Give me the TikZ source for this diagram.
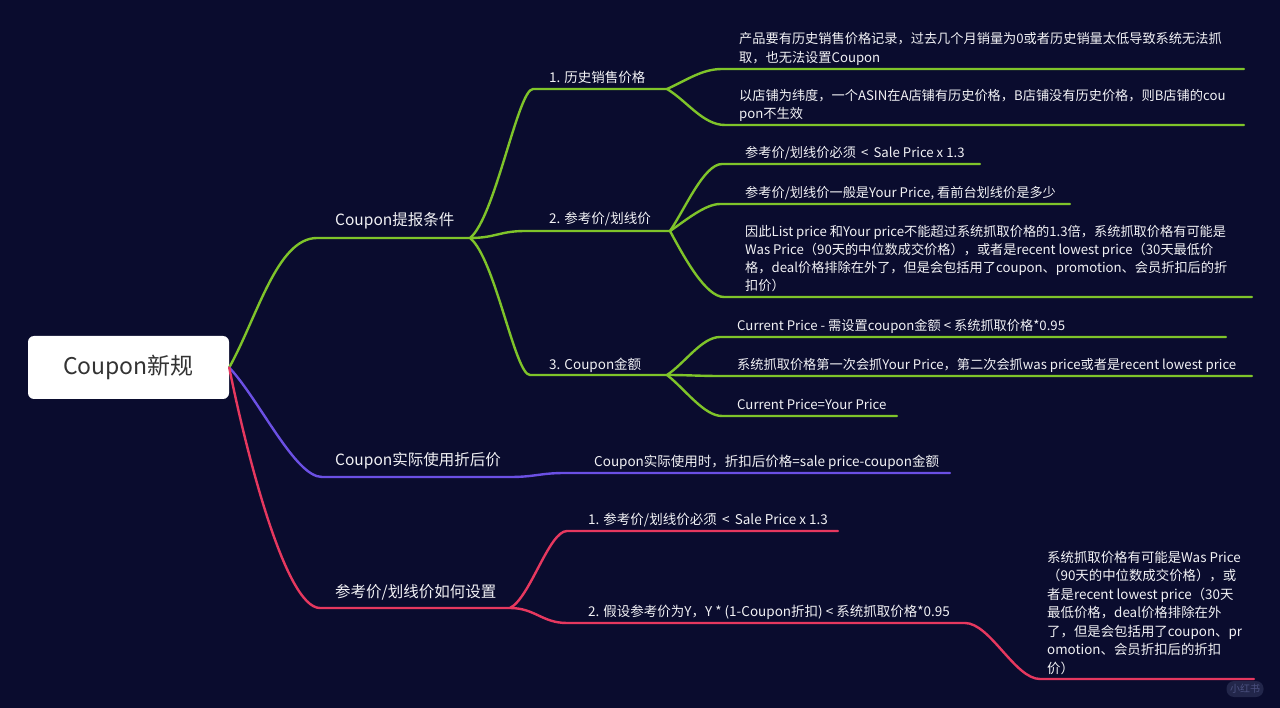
\documentclass[tikz,border=0pt]{standalone}
\usepackage{fontspec}
\setmainfont{Noto Sans CJK SC}
\definecolor{bg}{HTML}{0A0C2E}
\definecolor{mgreen}{HTML}{7FC42A}
\definecolor{mpurple}{HTML}{6B50E4}
\definecolor{mred}{HTML}{E6385F}
\definecolor{txt}{HTML}{F2F2F5}
\definecolor{roottxt}{HTML}{333333}
\definecolor{logofill}{HTML}{22264A}
\definecolor{logotxt}{HTML}{4C5180}
\begin{document}
\begin{tikzpicture}[x=1pt,y=-1pt,
  every node/.style={inner sep=0pt, text=txt},
  lvlone/.style={font=\fontsize{15.5}{20}\selectfont, anchor=west},
  lvltwo/.style={font=\fontsize{13.5}{18}\selectfont, anchor=west},
  leaf/.style={font=\fontsize{13.2}{18.3}\selectfont, anchor=west, align=left},
  conn/.style={line width=2.4pt, line cap=round, line join=round},
  gline/.style={conn, draw=mgreen},
  pline/.style={conn, draw=mpurple},
  rline/.style={conn, draw=mred}]
\useasboundingbox (0,0) rectangle (1280,708);
\fill[bg] (0,0) rectangle (1280,708);

% root topic
\node[fill=white, rounded corners=6pt, minimum width=201pt, minimum height=63pt,
      text=roottxt, font=\fontsize{23}{26}\selectfont] (root) at (128.5,367.5) {Coupon新规};

% junction and line-end points
\coordinate (G1a) at (317,238);  \coordinate (J1) at (470,238);
\coordinate (G11a) at (533,89);  \coordinate (J11) at (667,89);
\coordinate (G12a) at (525,231); \coordinate (J12) at (670,231);
\coordinate (G13a) at (530,375); \coordinate (J13) at (667,375);
\coordinate (L11a) at (722,69);  \coordinate (L11b) at (1244,69);
\coordinate (L12a) at (725,125); \coordinate (L12b) at (1244,125);
\coordinate (L21a) at (722,164); \coordinate (L21b) at (980,164);
\coordinate (L22a) at (720,204); \coordinate (L22b) at (1070,204);
\coordinate (L23a) at (724,297); \coordinate (L23b) at (1252,297);
\coordinate (L31a) at (720,337); \coordinate (L31b) at (1226,337);
\coordinate (L32a) at (720,376); \coordinate (L32b) at (1252,376);
\coordinate (L33a) at (722,416); \coordinate (L33b) at (897,416);
\coordinate (P1a) at (322,477);  \coordinate (P1b) at (510,477);
\coordinate (P2a) at (565,473);  \coordinate (P2b) at (950,473);
\coordinate (R1a) at (320,608);  \coordinate (J3) at (510,608);
\coordinate (R11a) at (567,531); \coordinate (R11b) at (838,531);
\coordinate (R12a) at (567,623); \coordinate (R12b) at (965,623);
\coordinate (R13a) at (1040,679);\coordinate (R13b) at (1254,679);

% green branch
\draw[gline] (root.east) .. controls +(28,-50) and +(-40,0) .. (G1a) -- (J1);
\draw[gline] (J1) .. controls +(25,-20) and +(-15,0) .. (G11a) -- (J11);
\draw[gline] (J1) .. controls +(25,0) and +(-25,0) .. (G12a) -- (J12);
\draw[gline] (J1) .. controls +(25,20) and +(-15,0) .. (G13a) -- (J13);
\draw[gline] (J11) .. controls +(20,-9) and +(-20,0) .. (L11a) -- (L11b);
\draw[gline] (J11) .. controls +(20,12) and +(-22,0) .. (L12a) -- (L12b);
\draw[gline] (J12) .. controls +(15,-22) and +(-18,0) .. (L21a) -- (L21b);
\draw[gline] (J12) .. controls +(15,-10) and +(-15,0) .. (L22a) -- (L22b);
\draw[gline] (J12) .. controls +(15,28) and +(-18,0) .. (L23a) -- (L23b);
\draw[gline] (J13) .. controls +(18,-12) and +(-18,0) .. (L31a) -- (L31b);
\draw[gline] (J13) .. controls +(20,0) and +(-20,0) .. (L32a) -- (L32b);
\draw[gline] (J13) .. controls +(18,14) and +(-18,0) .. (L33a) -- (L33b);

% purple branch
\draw[pline] (root.east) .. controls +(30,32) and +(-27,0) .. (P1a) -- (P1b)
  .. controls +(25,0) and +(-25,0) .. (P2a) -- (P2b);

% red branch
\draw[rline] (root.east) .. controls +(16,80) and +(-35,0) .. (R1a) -- (J3);
\draw[rline] (J3) .. controls +(20,-10) and +(-18,0) .. (R11a) -- (R11b);
\draw[rline] (J3) .. controls +(25,0) and +(-25,0) .. (R12a) -- (R12b)
  .. controls +(25,0) and +(-25,0) .. (R13a) -- (R13b);

% first-level labels
\node[lvlone] (t1) at (335,221) {Coupon提报条件};
\node[lvlone] (t2) at (335,461) {Coupon实际使用折后价};
\node[lvlone] (t3) at (335,592) {参考价/划线价如何设置};

% second-level labels
\node[lvltwo] (t11) at (549,77) {1. 历史销售价格};
\node[lvltwo] (t12) at (549,219) {2. 参考价/划线价};
\node[lvltwo] (t13) at (549,365) {3. Coupon金额};
\node[lvltwo] (t21) at (594,462) {Coupon实际使用时，折扣后价格=sale price-coupon金额};
\node[lvltwo] (t31) at (588,520) {1. 参考价/划线价必须 \,<\, Sale Price x 1.3};
\node[lvltwo] (t32) at (588,612) {2. 假设参考价为Y，Y * (1-Coupon折扣) < 系统抓取价格*0.95};

% leaves
\node[leaf] (a1) at (739,49) {产品要有历史销售价格记录，过去几个月销量为0或者历史销量太低导致系统无法抓\\取，也无法设置Coupon};
\node[leaf] (a2) at (739,105.5) {以店铺为纬度，一个ASIN在A店铺有历史价格，B店铺没有历史价格，则B店铺的cou\\pon不生效};
\node[leaf] (b1) at (745,153) {参考价/划线价必须 \,<\, Sale Price x 1.3};
\node[leaf] (b2) at (745,193) {参考价/划线价一般是Your Price, 看前台划线价是多少};
\node[leaf] (b3) at (745,258.5) {因此List price 和Your price不能超过系统抓取价格的1.3倍，系统抓取价格有可能是\\Was Price（90天的中位数成交价格），或者是recent lowest price（30天最低价\\格，deal价格排除在外了，但是会包括用了coupon、promotion、会员折扣后的折\\扣价）};
\node[leaf] (c1) at (737,326) {Current Price - 需设置coupon金额 < 系统抓取价格*0.95};
\node[leaf] (c2) at (737,365) {系统抓取价格第一次会抓Your Price，第二次会抓was price或者是recent lowest price};
\node[leaf] (c3) at (737,404) {Current Price=Your Price};
\node[leaf, font=\fontsize{13.4}{18.5}\selectfont] (d1) at (1047,612.5) {系统抓取价格有可能是Was Price\\（90天的中位数成交价格），或\\者是recent lowest price（30天\\最低价格，deal价格排除在外\\了，但是会包括用了coupon、pr\\omotion、会员折扣后的折扣\\价）};

% badge in the corner
\node[fill=logofill, rounded corners=7.5pt, minimum width=37pt, minimum height=16pt,
      text=logotxt, font=\fontsize{10}{10}\selectfont] (badge) at (1245,689) {小红书};
\end{tikzpicture}
\end{document}
